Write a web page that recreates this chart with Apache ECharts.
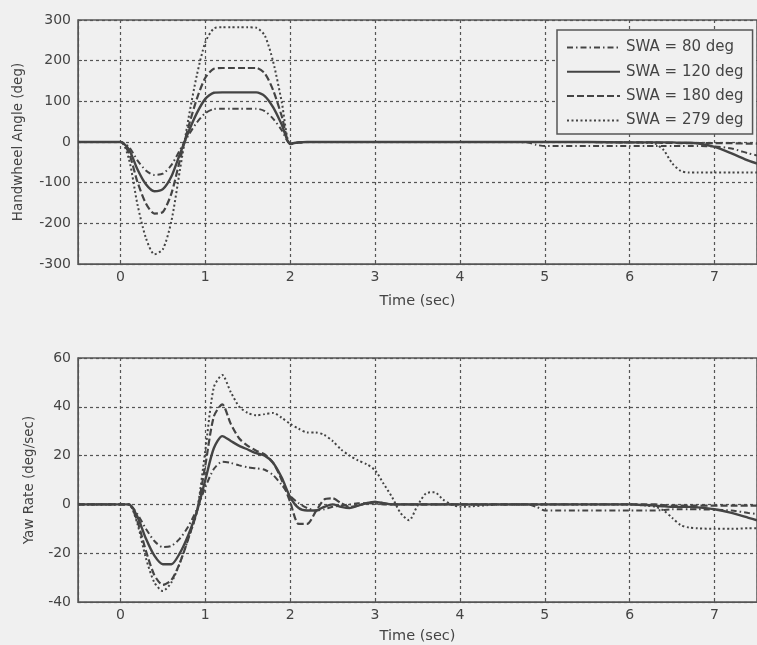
<!DOCTYPE html>
<html>
<head>
<meta charset="utf-8">
<script src="https://cdn.jsdelivr.net/npm/echarts@6/dist/echarts.min.js"></script>
<style>
  html, body { margin: 0; padding: 0; background: #f0f0f0; }
  #main { width: 757px; height: 645px; }
</style>
</head>
<body>
<div id="main"></div>
<script>
// time (sec), shared by both plots
const time = [
  -0.5, 0, 0.1, 0.2, 0.3, 0.4, 0.5, 0.6, 0.7, 0.8,
  0.9, 1.0, 1.1, 1.2, 1.3, 1.4, 1.5, 1.6, 1.7, 1.8,
  1.9, 2.0, 2.1, 2.2, 2.3, 2.4, 2.5, 2.6, 2.7, 2.8,
  2.9, 3.0, 3.1, 3.2, 3.3, 3.4, 3.5, 3.6, 3.7, 3.8,
  3.9, 4.0, 4.5, 4.8, 4.9, 5.0, 5.5, 6.0, 6.2, 6.3,
  6.4, 6.5, 6.6, 6.7, 6.8, 7.0, 7.2, 7.4, 7.5
]

const seriesNames = ['SWA = 80 deg', 'SWA = 120 deg', 'SWA = 180 deg', 'SWA = 279 deg']

// handwheel angle (deg)
const hw80 = [
  0, 0, -12, -45, -70, -81, -78, -57, -20, 16,
  48, 71, 81, 82, 82, 82, 82, 82, 76, 57,
  29, -4, -1, 0, 0, 0, 0, 0, 0, 0,
  0, 0, 0, 0, 0, 0, 0, 0, 0, 0,
  0, 0, 0, -1, -7, -10, -10, -10, -10, -10,
  -10, -10, -10, -10, -10, -11, -16, -28, -33
]
const hw120 = [
  0, 0, -18, -67, -104, -121, -116, -85, -30, 24,
  71, 106, 121, 122, 122, 122, 122, 122, 113, 85,
  43, -4, -1, 0, 0, 0, 0, 0, 0, 0,
  0, 0, 0, 0, 0, 0, 0, 0, 0, 0,
  0, 0, 0, 0, 0, 0, 0, -1, -1, -1,
  -1, -1, -2, -2, -3, -12, -28, -46, -53
]
const hw180 = [
  0, 0, -27, -98, -151, -176, -172, -127, -45, 36,
  106, 158, 180, 182, 182, 182, 182, 182, 169, 127,
  64, -5, -1, 0, 0, 0, 0, 0, 0, 0,
  0, 0, 0, 0, 0, 0, 0, 0, 0, 0,
  0, 0, 0, 0, 0, 0, 0, -1, -1, -1,
  -2, -2, -3, -3, -3, -3, -3, -4, -4
]
const hw279 = [
  0, 0, -42, -153, -236, -276, -264, -195, -70, 56,
  164, 245, 279, 282, 282, 282, 282, 281, 262, 197,
  99, -6, -1, 0, 0, 0, 0, 0, 0, 0,
  0, 0, 0, 0, 0, 0, 0, 0, 0, 0,
  0, 0, 0, 0, 0, 0, 0, -1, -2, -4,
  -20, -52, -71, -75, -75, -75, -75, -75, -75
]

// yaw rate (deg/sec)
const yr80 = [
  0, 0, 0, -4, -10, -15, -17.5, -17, -14, -9,
  -2, 7, 14.5, 17.5, 17, 16, 15.2, 14.8, 14.2, 12,
  8, 3.5, 0.5, -1.5, -2.5, -2, -1, -0.5, 0, 0.5,
  0.5, 0.3, 0, 0, 0, 0, 0, 0, 0, 0,
  0, 0, 0, 0, -1, -2.5, -2.5, -2.5, -2.5, -2.5,
  -2.3, -2, -2, -2, -2, -2.2, -2.5, -3.5, -4
]
const yr120 = [
  0, 0, 0, -5, -14, -21, -24.5, -24.5, -20, -12.5,
  -3, 10, 23, 28, 26, 24, 22.5, 21, 20, 17,
  11, 3, -1.5, -2.5, -2.5, -1, 0, -1, -1.5, -0.5,
  0.5, 1, 0.5, 0, 0, 0, 0, 0, 0, 0,
  0, 0, 0, 0, 0, 0, 0, 0, -0.3, -0.5,
  -0.8, -1, -1, -1, -1.2, -2, -3.5, -5.5, -6.5
]
const yr180 = [
  0, 0, 0, -7, -19, -29, -33, -31, -24, -14,
  -3, 16, 36, 41, 33, 27, 24, 22, 20.5, 17,
  10, 1, -8, -8, -3, 2, 2.5, 0.5, -1, -0.5,
  0.5, 1, 0.5, 0, 0, 0, 0, 0, 0, 0,
  0, 0, 0, 0, 0, 0, 0, 0, 0, 0,
  -0.3, -0.5, -0.5, -0.5, -0.5, -0.5, -0.5, -0.5, -0.5
]
const yr279 = [
  0, 0, 0, -8, -22, -32, -35.5, -32, -24, -14,
  -3, 22, 48, 53, 46, 40, 37.5, 36.5, 37, 37.5,
  35.5, 33, 31, 29.5, 29.5, 28.5, 26, 22.5, 20, 18,
  16.5, 14, 8.5, 3, -3.5, -6.5, -0.5, 4.5, 5, 2,
  0, -1, 0, 0, 0, 0, 0, 0, -0.5, -1,
  -2.5, -5.5, -8.5, -9.5, -9.8, -10, -10, -9.8, -9.8
]

const ink = '#444'
const font = 'DejaVu Sans'
// line look per series: dash-dot, solid, dashed, dotted
const lineStyles = [
  {width: 2, type: [6, 3, 1.5, 3]},
  {width: 2.4, type: 'solid'},
  {width: 2.2, type: [7, 3]},
  {width: 2, type: [2, 2.5]}
]

function mkSeries(vals, k, axis) {
  return {
    name: seriesNames[k],
    type: 'line',
    xAxisIndex: axis,
    yAxisIndex: axis,
    symbol: 'none',
    smooth: 0.25,
    lineStyle: Object.assign({color: ink}, lineStyles[k]),
    itemStyle: {color: ink},
    data: time.map((t, i) => [t, vals[i]])
  }
}

function mkX(idx, gap) {
  return {
    type: 'value',
    gridIndex: idx,
    min: -0.5,
    max: 7.5,
    splitNumber: 8,
    minInterval: 1,
    maxInterval: 1,
    name: 'Time (sec)',
    nameLocation: 'middle',
    nameGap: gap,
    nameTextStyle: {color: ink, fontSize: 14.5, fontFamily: font},
    axisLine: {onZero: false, lineStyle: {color: '#555'}},
    axisTick: {inside: true, length: 4, lineStyle: {color: '#555'}},
    axisLabel: {color: ink, fontSize: 14, fontFamily: font, margin: 6, showMinLabel: false, showMaxLabel: false},
    splitLine: {show: true, lineStyle: {color: '#555', type: [3, 3], width: 1.2}}
  }
}

function mkY(idx, min, max, step, name, gap) {
  return {
    type: 'value',
    gridIndex: idx,
    min: min,
    max: max,
    interval: step,
    name: name,
    nameLocation: 'middle',
    nameGap: gap,
    nameTextStyle: {color: ink, fontSize: 13.5, fontFamily: font},
    axisLine: {show: true, onZero: false, lineStyle: {color: '#555'}},
    axisTick: {show: true, inside: true, length: 4, lineStyle: {color: '#555'}},
    axisLabel: {color: ink, fontSize: 14, fontFamily: font, margin: 7},
    splitLine: {show: true, lineStyle: {color: '#555', type: [3, 3], width: 1.2}}
  }
}

const chart = echarts.init(document.getElementById('main'))
chart.setOption({
  backgroundColor: '#f0f0f0',
  animation: false,
  grid: [
    {left: 78, right: -6, top: 20, bottom: 381, show: true, borderColor: '#555', borderWidth: 1.5},
    {left: 78, right: -6, top: 358, bottom: 43, show: true, borderColor: '#555', borderWidth: 1.5}
  ],
  legend: {
    data: seriesNames,
    orient: 'vertical',
    left: 557,
    top: 30,
    itemWidth: 53,
    itemHeight: 14,
    itemGap: 9.3,
    padding: [10, 9, 6, 9],
    borderColor: '#555',
    borderWidth: 1.5,
    backgroundColor: '#f0f0f0',
    itemStyle: {opacity: 0},
    textStyle: {color: ink, fontSize: 15, fontFamily: font, padding: [0, 0, 0, 1]}
  },
  xAxis: [mkX(0, 30), mkX(1, 27)],
  yAxis: [
    mkY(0, -300, 300, 100, 'Handwheel Angle (deg)', 53),
    mkY(1, -40, 60, 20, 'Yaw Rate (deg/sec)', 42)
  ],
  series: [
    mkSeries(hw80, 0, 0), mkSeries(hw120, 1, 0), mkSeries(hw180, 2, 0), mkSeries(hw279, 3, 0),
    mkSeries(yr80, 0, 1), mkSeries(yr120, 1, 1), mkSeries(yr180, 2, 1), mkSeries(yr279, 3, 1)
  ]
})
</script>
</body>
</html>
